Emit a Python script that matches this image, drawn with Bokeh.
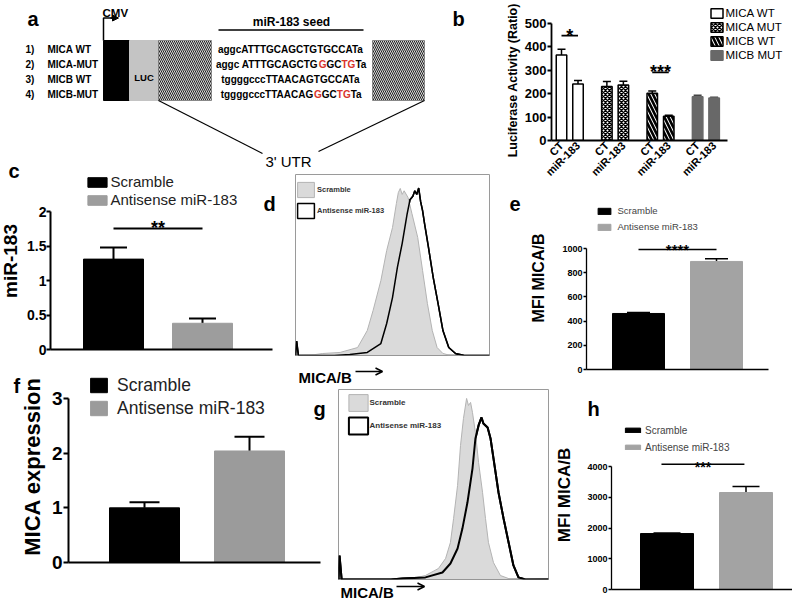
import math
from bokeh.plotting import figure
from bokeh.models import (Range1d, FixedTicker, Legend, LegendItem, Whisker, TeeHead,
                          ColumnDataSource, Arrow, OpenHead, NormalHead)
from bokeh.core.properties import value
from bokeh.embed import file_html
from bokeh.resources import INLINE

FONT = "Liberation Sans"
RED = "#d9342b"

# ---------------- data ----------------
# panel a: reporter constructs
a_rows = ["1)", "2)", "3)", "4)"]
a_names = ["MICA WT", "MICA-MUT", "MICB WT", "MICB-MUT"]
a_seqs = [
    [("aggcATTTGCAGCTGTGCCATa", 0)],
    [("aggc ATTTGCAGCTG", 0), ("G", 1), ("GC", 0), ("TG", 1), ("Ta", 0)],
    [("tggggcccTTAACAGTGCCATa", 0)],
    [("tggggcccTTAACAG", 0), ("G", 1), ("GC", 0), ("TG", 1), ("Ta", 0)],
]

# panel b: luciferase activity
b_groups = ["MICA WT", "MICA MUT", "MICB WT", "MICB MUT"]
b_tick_labels = ["CT", "miR-183"]
b_mica_wt = [365, 241]
b_mica_wt_err = [25, 15]
b_mica_mut = [231, 237]
b_mica_mut_err = [21, 16]
b_micb_wt = [202, 104]
b_micb_wt_err = [10, 4]
b_micb_mut = [187, 182]
b_micb_mut_err = [6, 3]
b_sig = ["*", "", "***", ""]
b_sig_level = [448, None, 291, None]
b_yticks = [0, 100, 200, 300, 400, 500]
b_ylabel = "Luciferase  Activity (Ratio)"

cond_labels = ["Scramble", "Antisense miR-183"]
# panel c
c_mir183 = [1.31, 0.38]
c_err = [0.17, 0.07]
c_sig, c_sig_level = "**", 1.754
c_yticks = [0, 0.5, 1.0, 1.5, 2.0]
# panel e
e_mfi = [463, 893]
e_err = [9, 22]
e_sig, e_sig_level = "****", 992
e_yticks = [0, 200, 400, 600, 800, 1000]
# panel f
f_mica = [1.00, 2.04]
f_err = [0.10, 0.26]
f_yticks = [0, 1, 2, 3]
# panel h
h_mfi = [1820, 3154]
h_err = [15, 196]
h_sig, h_sig_level = "***", 4070
h_yticks = [0, 1000, 2000, 3000, 4000]

# panel d histograms (channel, % of max)
d_x_scramble = [0, 10, 14, 23, 32, 37, 40, 44, 47, 50, 52, 53, 54, 55, 56, 58, 60, 63, 65.5, 68, 70.5, 73, 76, 80, 100]
d_y_scramble = [0, 0.5, 1.1, 1.7, 4.4, 13.8, 24.9, 41.4, 58, 70.7, 84, 90, 92.3, 89, 91, 87.3, 78.5, 65.2, 47, 28.7, 13.8, 4.4, 1.1, 0, 0]
d_x_antisense = [0, 0.6, 1.5, 20, 28, 37, 44, 47, 50, 52.5, 55, 57.5, 59, 60.5, 61.5, 62.5, 63.5, 64.5, 65.5, 66.5, 68.5, 71, 73.5, 76, 79, 82.5, 87, 100]
d_y_antisense = [0, 8, 0, 0, 0.6, 1.7, 6.6, 17.7, 32, 48.6, 62, 78, 86, 88, 91, 89, 92.5, 85, 80, 73, 60, 43, 28.7, 13.8, 4.4, 1.1, 0, 0]
# panel g histograms
g_x_scramble = [0, 30, 35.2, 41.4, 47.6, 51, 53.3, 54.8, 56.7, 58.1, 59.5, 61, 61.9, 62.9, 63.8, 65.2, 66.7, 68.6, 70, 71.4, 73.8, 77.1, 81, 100]
g_y_scramble = [0, 0, 0.5, 2.1, 5.8, 11.1, 19.5, 32.1, 49.5, 70.5, 84.7, 95.3, 91.6, 93.2, 87.9, 77.4, 61.6, 45.8, 32.1, 19.5, 8.9, 2.1, 0.5, 0]
g_x_antisense = [0, 0.5, 1.5, 25, 30.5, 41.4, 49.5, 53.3, 56.7, 59, 61.4, 63.8, 65.2, 66.7, 68.1, 69, 71, 72.4, 73.8, 76.2, 78.6, 81, 83.3, 85.7, 89, 100]
g_y_antisense = [0, 12.6, 0, 0, 0.5, 1.1, 3.7, 8.4, 16.3, 26.8, 40.5, 58.4, 74.2, 81.1, 85.3, 82.1, 80, 74.2, 63.7, 45.8, 32.1, 19.5, 7.4, 1.1, 0, 0]


# ---------------- helpers ----------------
def lin(p0, v0, p1, v1, e0, e1):
    k = (v1 - v0) / (p1 - p0)
    return (v0 + (e0 - p0) * k, v0 + (e1 - p0) * k)


def place(p, left, top):
    p.styles = {"position": "absolute", "left": f"{int(round(left))}px", "top": f"{int(round(top))}px"}


def make_panel(fl, ft, fr, fb, xr, yr, bl=0, bb=0, bt=0, br=0, axes=True):
    w = int(round(fr - fl + bl + br))
    h = int(round(fb - ft + bt + bb))
    kw = dict(width=w, height=h, x_range=Range1d(*xr), y_range=Range1d(*yr),
              output_backend="svg", toolbar_location=None, title=None,
              min_border_left=bl, min_border_right=br, min_border_top=bt, min_border_bottom=bb)
    if not axes:
        kw.update(x_axis_type=None, y_axis_type=None)
    p = figure(**kw)
    place(p, fl - bl, ft - bt)
    p.background_fill_color = None
    p.border_fill_color = None
    p.outline_line_color = None
    if axes:
        p.grid.visible = False
    return p


def style_axes(p, yticks, ybounds, xbounds, lw, tick_out, tick_fs, ylabel, ylabel_fs, ylabel_standoff,
               tick_standoff=1):
    yax = p.yaxis[0]
    xax = p.xaxis[0]
    for ax in (yax, xax):
        ax.axis_line_width = lw
        ax.axis_line_color = "black"
        ax.major_tick_line_width = lw
        ax.major_tick_line_color = "black"
        ax.minor_tick_line_color = None
        ax.major_label_text_font = FONT
        ax.major_label_text_font_style = "bold"
        ax.major_label_text_color = "black"
    yax.ticker = FixedTicker(ticks=yticks)
    yax.bounds = ybounds
    yax.major_tick_out = tick_out
    yax.major_tick_in = 0
    yax.major_label_text_font_size = f"{tick_fs}px"
    yax.major_label_standoff = tick_standoff
    if ylabel:
        yax.axis_label = ylabel
        yax.axis_label_text_font = FONT
        yax.axis_label_text_font_style = "bold"
        yax.axis_label_text_font_size = f"{ylabel_fs}px"
        yax.axis_label_text_color = "black"
        yax.axis_label_standoff = ylabel_standoff
    xax.bounds = xbounds
    xax.major_tick_line_color = None
    xax.major_tick_out = 0
    xax.major_tick_in = 0


def hide_x_labels(p):
    p.xaxis[0].ticker = FixedTicker(ticks=[])
    p.xaxis[0].major_label_text_font_size = "0px"


def add_legend(p, fl, fb, items, rect_x, row_y, pitch, rect_w, rect_h, text_x, fs,
               bold=False, color="black"):
    gw = int(round(rect_w / 0.8))
    gh = int(round(rect_h / 0.8))
    th = 1.15 * fs
    mlh = max(th, gh)
    spacing = max(0, int(round(pitch - mlh)))
    left = rect_x - (gw - rect_w) / 2.0
    top = row_y - (gh / 2.0 + mlh / 2.0) / 2.0
    n = len(items)
    height = n * mlh + (n - 1) * spacing
    leg = Legend(items=[LegendItem(label=l, renderers=[r]) for l, r in items],
                 location=(left - fl, fb - (top + height)),
                 glyph_width=gw, glyph_height=gh, label_height=gh, label_width=10,
                 label_standoff=max(0, int(round(text_x - (left + gw)))),
                 spacing=spacing, padding=0, margin=0,
                 border_line_color=None, background_fill_alpha=0,
                 label_text_font=FONT, label_text_font_size=f"{fs}px",
                 label_text_font_style="bold" if bold else "normal",
                 label_text_color=color)
    p.add_layout(leg)


def whiskers(p, xs, vals, errs, cap, lw, color="black"):
    src = ColumnDataSource(dict(base=xs, lower=vals, upper=[v + e for v, e in zip(vals, errs)]))
    p.add_layout(Whisker(source=src, base="base", lower="lower", upper="upper",
                         line_width=lw, line_color=color,
                         upper_head=TeeHead(size=cap, line_width=lw, line_color=color),
                         lower_head=None))


def stars(p, x0, x1, y, s, fs, lw, y_off=0):
    p.segment(x0=[x0], y0=[y], x1=[x1], y1=[y], line_width=lw, line_color="black")
    p.text(x=[(x0 + x1) / 2.0], y=[y], text=[s], text_align="center", text_baseline="alphabetic",
           text_font=value(FONT), text_font_style="bold", text_font_size=f"{fs}px",
           text_color="black", y_offset=y_off)


# ---------------- canvas (panel a schematic + letters) ----------------
K = figure(width=800, height=600, x_range=Range1d(0, 800), y_range=Range1d(600, 0),
           output_backend="svg", toolbar_location=None, x_axis_type=None, y_axis_type=None,
           min_border=0, title=None)
K.background_fill_color = None
K.border_fill_color = None
K.outline_line_color = None
place(K, 0, 0)


def ktext(x, y, s, fs, bold=True, color="black", align="left", baseline="alphabetic", angle=0.0):
    K.text(x=[x], y=[y], text=[s], text_font=value(FONT), text_font_style="bold" if bold else "normal",
           text_font_size=f"{fs}px", text_color=color, text_align=align, text_baseline=baseline,
           angle=angle)


# Arial-bold advance widths (per 1000 em) used to place coloured sequence pieces
AB = {'a': 556, 'g': 611, 'c': 556, 't': 333, 'A': 722, 'T': 611, 'G': 778, 'C': 722, ' ': 278}
SEQ_FS = 10
SEQ_CX = 291


def tw(s):
    return sum(AB[ch] for ch in s) * SEQ_FS / 1000.0


row_base = [48.5, 64, 78.5, 94]
for i in range(4):
    ktext(25, row_base[i], a_rows[i], 10)
    ktext(47, row_base[i], a_names[i], 10)
    total = sum(tw(s) for s, _ in a_seqs[i])
    x = SEQ_CX - total / 2.0
    for s, red in a_seqs[i]:
        ktext(x, row_base[i], s, SEQ_FS, color=RED if red else "black")
        x += tw(s)

# construct boxes
K.quad(left=[103], right=[129], top=[40], bottom=[100], fill_color="black", line_color="black")
K.quad(left=[129], right=[158], top=[40], bottom=[100], fill_color="#c4c4c4", line_color="#c4c4c4")
K.quad(left=[158, 372], right=[211, 424], top=[40, 40], bottom=[100, 100], fill_color="#d8d8d8",
       line_color="#666666", line_width=0.6, hatch_pattern="left_diagonal_line", hatch_color="#222222",
       hatch_scale=4, hatch_weight=1.0)
ktext(143.5, 77, "LUC", 9.5, align="center")
# CMV promoter arrow
K.line(x=[103, 103, 112], y=[40, 17.5, 17.5], line_color="black", line_width=1.5)
K.add_layout(Arrow(end=NormalHead(size=6, fill_color="black", line_color="black"),
                   x_start=110, y_start=17.5, x_end=118, y_end=17.5, line_width=1.5))
ktext(102, 12.5, "CMV", 11.5)
# seed label
ktext(SEQ_CX, 21.5, "miR-183 seed", 12, align="center")
K.line(x=[218, 363], y=[29.5, 29.5], line_color="black", line_width=1.5)
# 3'UTR zoom lines
K.line(x=[158, 262], y=[100, 153], line_color="black", line_width=1.2)
K.line(x=[424, 318], y=[100, 151], line_color="black", line_width=1.2)
ktext(288, 161, "3' UTR", 15, bold=False, align="center")

# panel letters
for s, x, y in [("a", 27, 18), ("b", 452, 18), ("c", 8, 170), ("d", 263, 203), ("e", 509, 203),
                ("f", 13, 385), ("g", 313, 408), ("h", 587, 408)]:
    ktext(x, y, s, 20)

# panel b y-axis title
ktext(512, 78, b_ylabel, 12.5, align="center", baseline="middle", angle=math.pi / 2)

# flow cytometry axis captions
ktext(298, 377, "MICA/B", 15)
K.add_layout(Arrow(end=OpenHead(size=7, line_width=1.5), x_start=355, y_start=371, x_end=382, y_end=371,
                   line_width=1.5))
ktext(340, 592, "MICA/B", 15)
K.add_layout(Arrow(end=OpenHead(size=7, line_width=1.5), x_start=396, y_start=586, x_end=424, y_end=586,
                   line_width=1.5))

# ---------------- panel b ----------------
B_UNIT = 4.125
pB = make_panel(551, 8, 792, 140, lin(561, 0, 561 + B_UNIT, 1, 551, 792), lin(140, 0, 23, 500, 140, 8),
                bl=40, bb=50)
style_axes(pB, b_yticks, (0, 500), (lin(561, 0, 561 + B_UNIT, 1, 551, 727)), 1.8, 4, 13, None, 0, 0)
b_vals = [b_mica_wt, b_mica_mut, b_micb_wt, b_micb_mut]
b_errs = [b_mica_wt_err, b_mica_mut_err, b_micb_wt_err, b_micb_mut_err]
b_styles = [
    dict(fill_color="white", line_color="black"),
    dict(fill_color="white", line_color="black", hatch_pattern="diagonal_cross", hatch_color="black",
         hatch_scale=4, hatch_weight=1.4),
    dict(fill_color="white", line_color="black", hatch_pattern="left_diagonal_line", hatch_color="black",
         hatch_scale=8, hatch_weight=2.6),
    dict(fill_color="#686868", line_color="#686868"),
]
b_ticks, b_over, b_rend = [], {}, []
for g in range(4):
    xs = [g * 11 + k * 4 for k in range(2)]
    r = pB.vbar(x=xs, top=b_vals[g], width=10.5 / B_UNIT, bottom=0, line_width=1.5, **b_styles[g])
    b_rend.append(r)
    whiskers(pB, xs, b_vals[g], b_errs[g], 8, 1.5, "black" if g < 3 else "#444444")
    for k, x in enumerate(xs):
        b_ticks.append(x)
        b_over[x] = b_tick_labels[k]
    if b_sig[g]:
        stars(pB, xs[0], xs[1], b_sig_level[g], b_sig[g], 18, 1.8)
pB.xaxis[0].ticker = FixedTicker(ticks=b_ticks)
pB.xaxis[0].major_label_overrides = b_over
pB.xaxis[0].major_label_orientation = math.pi / 4
pB.xaxis[0].major_label_text_font_size = "11px"
pB.xaxis[0].major_label_standoff = 3
add_legend(pB, 551, 140, list(zip(b_groups, b_rend)), 710, 8, 15.5, 12, 10, 725, 11.5)

# ---------------- panel c ----------------
pC = make_panel(50, 172, 282, 349, lin(113, 0, 202, 1, 50, 282), lin(349, 0, 211, 2, 349, 172), bl=58, bb=10)
style_axes(pC, c_yticks, (0, 2), (lin(113, 0, 202, 1, 50, 272)), 2, 4, 14, "miR-183", 19, 3, tick_standoff=0)
hide_x_labels(pC)
rc0 = pC.vbar(x=[0], top=[c_mir183[0]], width=60 / 89, fill_color="black", line_color="black")
rc1 = pC.vbar(x=[1], top=[c_mir183[1]], width=60 / 89, fill_color="#9d9d9d", line_color="#9d9d9d")
whiskers(pC, [0, 1], c_mir183, c_err, 27, 2)
stars(pC, 0, 1, c_sig_level, c_sig, 18, 2)
add_legend(pC, 50, 349, [(cond_labels[0], rc0), (cond_labels[1], rc1)], 87, 180, 18, 19, 10, 110, 15,
           color="#222222")

# ---------------- panel d ----------------
pD = make_panel(295, 174, 489, 355, (0, 100), (0, 100), bl=1, bb=1, bt=1, br=1, axes=False)
pD.outline_line_color = "#9a9a9a"
rd_anti = pD.patch(d_x_antisense, d_y_antisense, fill_color="white", line_color="black", line_width=1.5)
rd_scr = pD.patch(d_x_scramble, d_y_scramble, fill_color="#dadada", line_color="#b3b3b3", line_width=1)
pD.line(d_x_antisense, d_y_antisense, line_color="black", line_width=1.5)
add_legend(pD, 295, 355, [(cond_labels[0], rd_scr), (cond_labels[1], rd_anti)], 297, 189.5, 21.5, 17, 15,
           317, 7.5, bold=True, color="#333333")

# ---------------- panel e ----------------
pE = make_panel(586, 186, 792, 369, lin(638, 0, 716, 1, 586, 792), lin(369, 0, 248, 1000, 369, 186),
                bl=72, bb=10)
style_axes(pE, e_yticks, (0, 1000), (lin(638, 0, 716, 1, 586, 768)), 1.3, 3, 9, "MFI MICA/B", 16, 12,
           tick_standoff=1)
hide_x_labels(pE)
re0 = pE.vbar(x=[0], top=[e_mfi[0]], width=52 / 78, fill_color="black", line_color="black")
re1 = pE.vbar(x=[1], top=[e_mfi[1]], width=52 / 78, fill_color="#a3a3a3", line_color="#a3a3a3")
whiskers(pE, [0, 1], e_mfi, e_err, 23, 1.5)
stars(pE, 0, 1, e_sig_level, e_sig, 15, 1.5)
add_legend(pE, 586, 369, [(cond_labels[0], re0), (cond_labels[1], re1)], 597, 210, 15.5, 13, 6, 617, 9.5,
           color="#444444")

# ---------------- panel f ----------------
pF = make_panel(68, 370, 330, 562, lin(144, 0, 249, 1, 68, 330), lin(562, 0, 398, 3, 562, 370), bl=60, bb=12)
style_axes(pF, f_yticks, (0, 3), (lin(144, 0, 249, 1, 68, 320)), 2, 5, 19, "MICA expression", 22, 4,
           tick_standoff=1)
hide_x_labels(pF)
rf0 = pF.vbar(x=[0], top=[f_mica[0]], width=70 / 105, fill_color="black", line_color="black")
rf1 = pF.vbar(x=[1], top=[f_mica[1]], width=70 / 105, fill_color="#9b9b9b", line_color="#9b9b9b")
whiskers(pF, [0, 1], f_mica, f_err, 30, 2)
add_legend(pF, 68, 562, [(cond_labels[0], rf0), (cond_labels[1], rf1)], 90, 386, 22, 17, 14, 117, 17.5,
           color="#222222")

# ---------------- panel g ----------------
pG = make_panel(338, 389, 548, 579, (0, 100), (0, 100), bl=1, bb=1, bt=1, br=1, axes=False)
pG.outline_line_color = "#9a9a9a"
rg_anti = pG.patch(g_x_antisense, g_y_antisense, fill_color="white", line_color="black", line_width=2)
rg_scr = pG.patch(g_x_scramble, g_y_scramble, fill_color="#dadada", line_color="#b3b3b3", line_width=1)
pG.line(g_x_antisense, g_y_antisense, line_color="black", line_width=2)
add_legend(pG, 338, 579, [(cond_labels[0], rg_scr), (cond_labels[1], rg_anti)], 348, 402.5, 22.5, 19, 17,
           370, 8, bold=True, color="#333333")

# ---------------- panel h ----------------
pH = make_panel(611, 400, 792, 589, lin(666.5, 0, 745.5, 1, 611, 792), lin(589, 0, 466, 4000, 589, 400),
                bl=72, bb=4)
style_axes(pH, h_yticks, (0, 4000), (lin(666.5, 0, 745.5, 1, 611, 792)), 1.3, 3, 9, "MFI MICA/B", 17, 10,
           tick_standoff=1)
hide_x_labels(pH)
rh0 = pH.vbar(x=[0], top=[h_mfi[0]], width=53 / 79, fill_color="black", line_color="black")
rh1 = pH.vbar(x=[1], top=[h_mfi[1]], width=53 / 79, fill_color="#a3a3a3", line_color="#a3a3a3")
whiskers(pH, [0, 1], h_mfi, h_err, 27, 1.5)
stars(pH, -0.07, 0.98, h_sig_level, h_sig, 14, 1.5, y_off=3)
add_legend(pH, 611, 589, [(cond_labels[0], rh0), (cond_labels[1], rh1)], 625, 428, 17, 15, 5, 645, 10,
           color="#444444")

open("out.html", "w").write(file_html([K, pB, pC, pD, pE, pF, pG, pH], INLINE))
